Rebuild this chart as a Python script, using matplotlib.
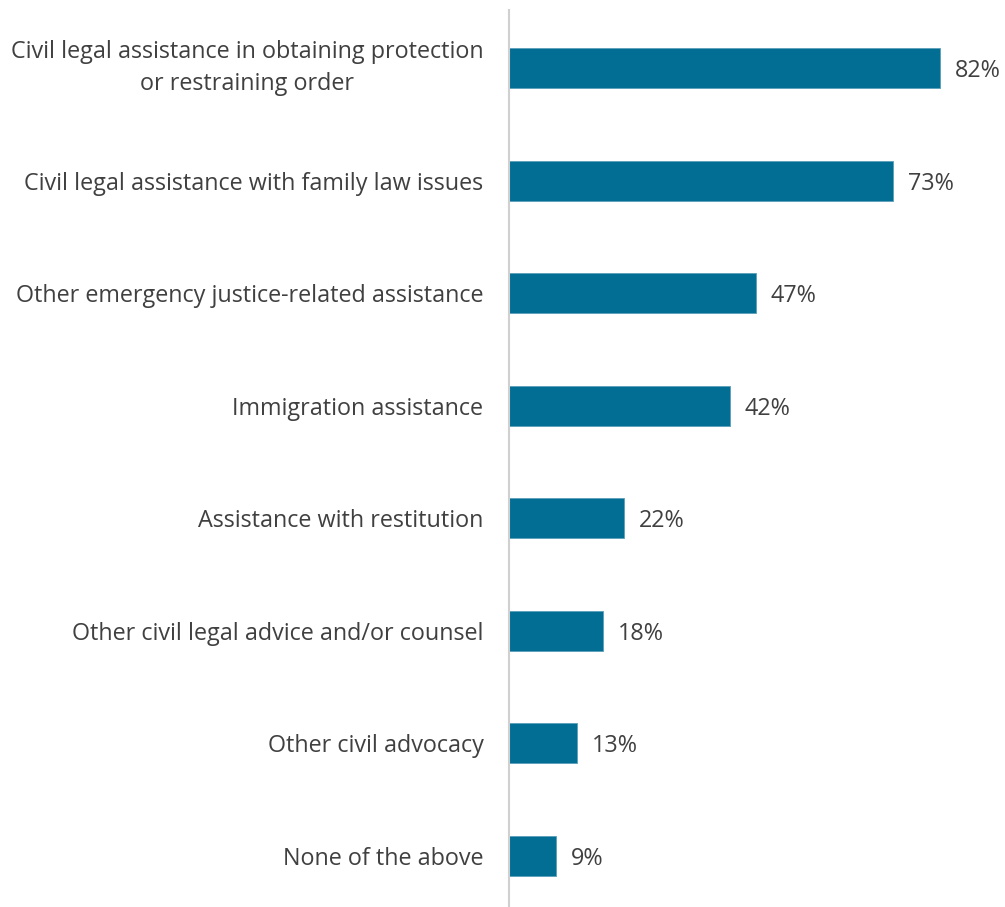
import matplotlib
matplotlib.use("Agg")
import matplotlib.pyplot as plt

categories = [
    "Civil legal assistance in obtaining protection\nor restraining order",
    "Civil legal assistance with family law issues",
    "Other emergency justice-related assistance",
    "Immigration assistance",
    "Assistance with restitution",
    "Other civil legal advice and/or counsel",
    "Other civil advocacy",
    "None of the above",
]
values = [82, 73, 47, 42, 22, 18, 13, 9]

plt.rcParams['font.family'] = ['Open Sans', 'DejaVu Sans']
W, H = 1005, 907
fig = plt.figure(figsize=(W/100, H/100), dpi=100)
ax = fig.add_axes([508.5/W, 0, 1 - 508.5/W, (H-10)/H])

pos = list(range(len(categories)))
ax.barh(pos, values, height=0.355, color="#036E94", edgecolor="#5A9FBA", linewidth=0.6)
ax.set_ylim(7.453, -0.515)
ax.set_xlim(0, 94.3)
ax.set_yticks(pos)
labels = ax.set_yticklabels(categories, fontsize=16.8, color="#404040", ha="right",
                            multialignment="center")
for t in labels:
    t.set_linespacing(1.45)
    if "\n" in t.get_text():
        t.set_va("center")
ax.tick_params(axis='y', length=0, pad=18)
ax.set_xticks([])
for s in ['top', 'right', 'bottom']:
    ax.spines[s].set_visible(False)
ax.spines['left'].set_color("#D0D0D0")
ax.spines['left'].set_linewidth(1.5)

for p, v in zip(pos, values):
    ax.annotate(f"{v}%", (v, p), xytext=(15, 0), textcoords="offset pixels",
                va="center_baseline", ha="left", fontsize=16.8, color="#404040")

fig.savefig("out.png", dpi=100)
